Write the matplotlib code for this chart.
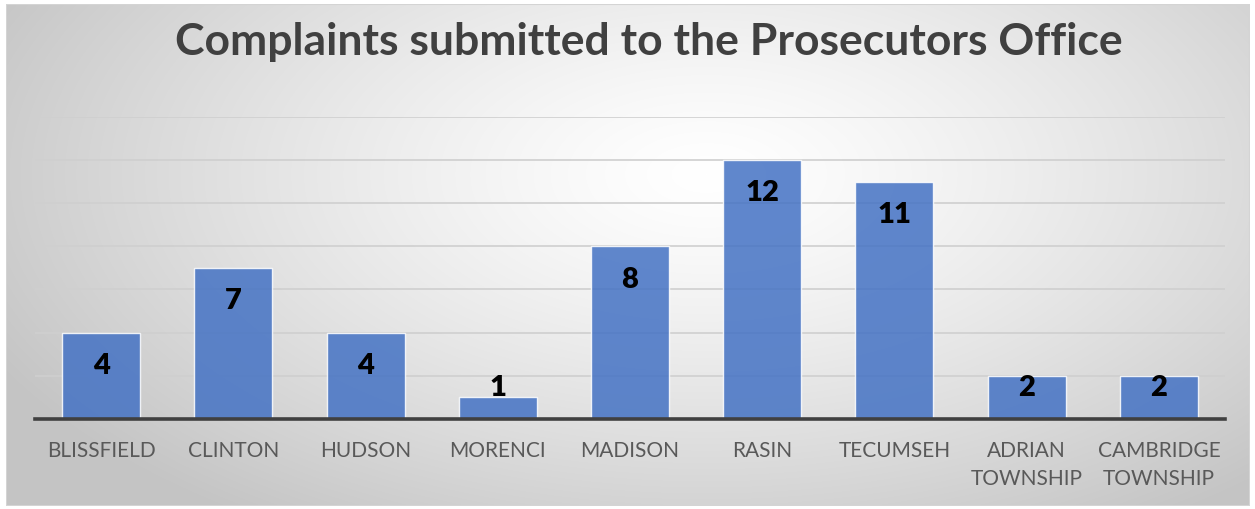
import numpy as np
import matplotlib.pyplot as plt
from matplotlib.patches import Rectangle

# datos del gráfico
categorias = ["BLISSFIELD", "CLINTON", "HUDSON", "MORENCI", "MADISON",
              "RASIN", "TECUMSEH", "ADRIAN\nTOWNSHIP", "CAMBRIDGE\nTOWNSHIP"]
quejas = [4, 7, 4, 1, 8, 12, 11, 2, 2]
titulo = "Complaints submitted to the Prosecutors Office"

W, H = 1255, 510
fig = plt.figure(figsize=(W / 100, H / 100), dpi=100)

# fondo con degradado radial (blanco al centro, gris en los bordes)
fondo = fig.add_axes([6 / W, 1 - 507 / H, 1244 / W, 502 / H])
yy, xx = np.mgrid[0:502, 0:1244]
cx, cy = 700, 170
d = np.sqrt(((xx - cx) / 800.0) ** 2 + ((yy - cy) / 420.0) ** 2)
d = np.clip(d, 0, 1)
v = 1.0 - 0.23 * d ** 1.3
img = np.dstack([v, v, v])
fondo.imshow(img, aspect="auto", extent=[0, 1, 0, 1], interpolation="bilinear")
fondo.set_xlim(0, 1); fondo.set_ylim(0, 1)
fondo.axis("off")
fondo.add_patch(Rectangle((0, 0), 1, 1, transform=fondo.transAxes, fill=False,
                          edgecolor="#d4d4d4", lw=1.5, zorder=5))

ax = fig.add_axes([35 / W, 90 / H, 1190 / W, 302.2 / H])
ax.patch.set_alpha(0)
x = np.arange(len(categorias))
ax.bar(x, quejas, width=0.59, color="#4472c4", alpha=0.85,
       edgecolor=(1, 1, 1, 0.4), lw=1, zorder=3)

for xi, q in zip(x, quejas):
    ax.text(xi, max(q - 1.5, 1.47), str(q), ha="center", va="center",
            fontsize=21, fontweight="heavy", family="Lato", color="black", zorder=4)

ax.set_xlim(-0.5, len(categorias) - 0.5)
ax.set_ylim(0, 14)
ax.set_yticks(np.arange(2, 15, 2))
ax.yaxis.grid(True, color="#cfcfcf", lw=1.2, zorder=0)
ax.tick_params(axis="y", left=False, labelleft=False)
ax.tick_params(axis="x", length=0, pad=15)
ax.set_xticks(x)
ax.set_xticklabels(categorias, fontsize=15, family="Lato", color="#595959",
                   linespacing=1.5)
for s in ["top", "right", "left"]:
    ax.spines[s].set_visible(False)
ax.spines["bottom"].set_color("#404040")
ax.spines["bottom"].set_linewidth(2.6)
ax.spines["bottom"].set_zorder(5)

fig.text(649 / W, 1 - 42 / H, titulo, ha="center", va="center", fontsize=32,
         fontweight="bold", family="Lato", color="#404040")

fig.savefig("out.png", dpi=100)
